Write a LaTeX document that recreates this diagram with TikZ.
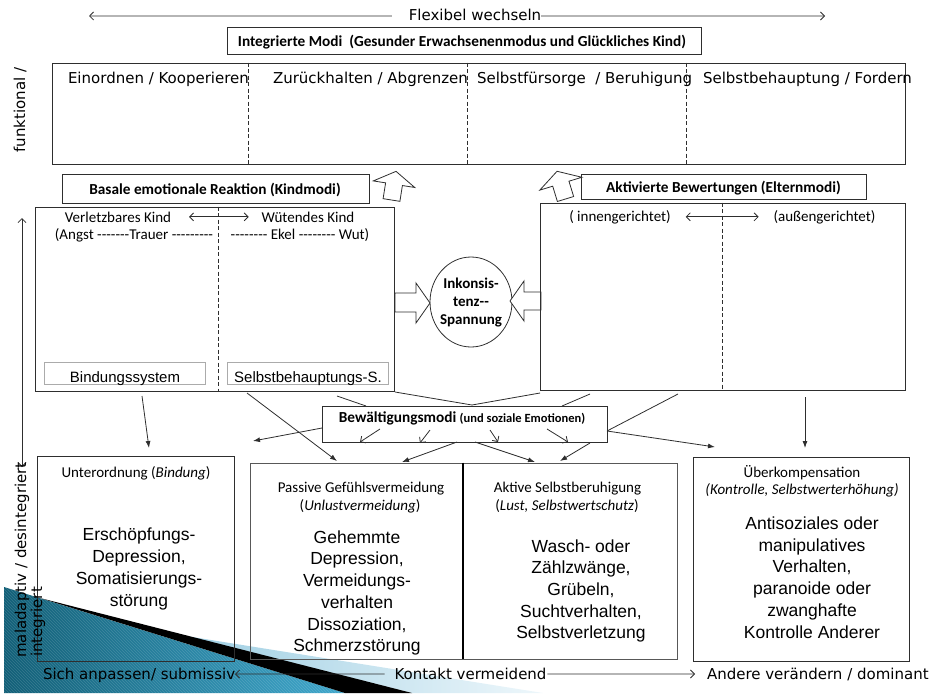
\documentclass[tikz,border=0pt]{standalone}
\usepackage{fontspec}
\newfontfamily\carl{Carlito}
\newfontfamily\dv{DejaVu Sans}
\newfontfamily\lib{Liberation Sans}
\usetikzlibrary{arrows.meta,patterns,shapes.geometric}
\definecolor{lc}{HTML}{2E2E2E}
\definecolor{tealA}{HTML}{125F77}
\definecolor{tealB}{HTML}{3FA7CC}
\definecolor{lbA}{HTML}{9FCFE3}
\definecolor{lbB}{HTML}{EEF7FB}
\definecolor{gbox}{HTML}{ABABAB}
\begin{document}
\begin{tikzpicture}[x=1pt,y=-1pt,
 box/.style={draw=lc,line width=0.8pt,inner sep=0pt},
 gbx/.style={draw=gbox,line width=0.7pt,inner sep=0pt},
 txt/.style={inner sep=0pt,outer sep=0pt},
 dvf/.style={txt,font=\dv\fontsize{15}{18}\selectfont},
 cal/.style={txt,font=\carl\fontsize{15}{18}\selectfont},
 calb/.style={txt,font=\carl\bfseries\fontsize{15.3}{18}\selectfont},
 libf/.style={txt,font=\lib\fontsize{15}{18}\selectfont},
 big/.style={txt,font=\lib\fontsize{17.5}{21.7}\selectfont,align=center},
 fa/.style={lc,line width=0.8pt,-{Latex[length=7pt,width=5pt]}},
 oa/.style={lc,line width=0.8pt,-{Straight Barb[length=4pt,width=8pt]}},
 da/.style={lc,line width=0.8pt,{Straight Barb[length=4pt,width=8pt]}-{Straight Barb[length=4pt,width=8pt]}},
 pl/.style={lc,line width=0.8pt},
 dsh/.style={lc,line width=0.8pt,dash pattern=on 4pt off 2.5pt},
 blk/.style={draw=lc,line width=0.8pt,fill=white,line join=miter}]
\useasboundingbox (0,0) rectangle (931,693);

% ---- corner decoration
\shade[left color=tealA,right color=tealB] (4,587) -- (345,693) -- (4,693) -- cycle;
\fill[pattern=north west lines,pattern color=white,opacity=0.15] (4,587) -- (345,693) -- (4,693) -- cycle;
\shade[left color=lbA,right color=lbB] (186,636) -- (543,693) -- (412,693) -- cycle;
\fill[black] (40,598) -- (412,693) -- (345,693) -- cycle;

% ---- top arrow
\node[dvf,anchor=base] (flex) at (475,21) {Flexibel wechseln};
\coordinate (fl) at (89,16);
\coordinate (fr) at (825,16);
\draw[oa] ([xshift=-17pt,yshift=-0.5pt]flex.west) -- (fl);
\draw[oa] ([yshift=-0.5pt]flex.east) -- (fr);

% ---- integrated modes
\node[box,minimum width=474,minimum height=27] (im) at (464.5,40.5) {};
\node[calb,anchor=base] (imt) at (462,47) {Integrierte Modi\ \ (Gesunder Erwachsenenmodus und Glückliches Kind)};

\node[box,minimum width=853,minimum height=101] (topb) at (478.5,113.5) {};
\foreach \dx in {197,416,635}{
  \draw[dsh] ([xshift=\dx pt]topb.north west) -- ([xshift=\dx pt]topb.south west);}
\node[dvf,anchor=base west] (t1) at (68,83) {Einordnen / Kooperieren};
\node[dvf,anchor=base west] (t2) at (273,83) {Zurückhalten / Abgrenzen};
\node[dvf,anchor=base west] (t3) at (477,83) {Selbstfürsorge\ \ / Beruhigung};
\node[dvf,anchor=base west] (t4) at (703,83) {Selbstbehauptung / Fordern};

% ---- headings second row
\node[box,minimum width=307,minimum height=29] (bas) at (215.5,188.5) {};
\node[calb,anchor=base] (bast) at (215,194) {Basale emotionale Reaktion (Kindmodi)};
\node[box,minimum width=285,minimum height=25] (akb) at (723.5,186.5) {};
\node[calb,anchor=base] (akbt) at (723.5,192) {Aktivierte Bewertungen (Elternmodi)};

% block up-arrows
\begin{scope}[shift={(391.5,200)},rotate=-9]
\draw[blk] (-8.5,0) -- (-8.5,-16) -- (-21,-16) -- (0,-29) -- (21,-16) -- (8.5,-16) -- (8.5,0) -- cycle;
\end{scope}
\begin{scope}[shift={(565.5,199)},rotate=17]
\draw[blk] (-8.5,0) -- (-8.5,-16) -- (-22,-16) -- (0,-29) -- (22,-16) -- (8.5,-16) -- (8.5,0) -- cycle;
\end{scope}

% ---- child modes box
\node[box,minimum width=359,minimum height=184] (kind) at (214.5,299) {};
\draw[dsh] ([xshift=184pt]kind.north west) -- ([xshift=184pt]kind.south west);
\node[cal,anchor=base] (vk) at (118,222) {Verletzbares Kind};
\node[cal,anchor=base] (wk) at (308,222) {Wütendes Kind};
\draw[da] ([xshift=18pt]vk.east) -- ([xshift=-13pt]wk.west);
\node[cal,anchor=base] (emo1) at (134,239) {(Angst -------Trauer ---------};
\node[cal,anchor=base] (emo2) at (300,239) {-------- Ekel -------- Wut)};
\node[gbx,minimum width=161,minimum height=22] (bind) at (124.5,373) {};
\node[libf,anchor=base] (bindt) at (125,382) {Bindungssystem};
\node[gbx,minimum width=161,minimum height=22] (sbs) at (307.5,373) {};
\node[libf,anchor=base] (sbst) at (308,382) {Selbstbehauptungs-S.};

% ---- inconsistency
\node[draw=lc,line width=0.8pt,ellipse,minimum width=82,minimum height=90,inner sep=0pt] (ink) at (471,302) {};
\node[calb,align=center,font=\carl\bfseries\fontsize{15}{18}\selectfont] (inkt) at (471,302.5) {Inkonsis-\\tenz--\\Spannung};
\draw[blk] (395,293) -- (416,293) -- (416,283) -- (430,303) -- (416,323) -- (416,312) -- (395,312) -- cycle;
\draw[blk] (541,292) -- (524,292) -- (524,281) -- (510,301) -- (524,321) -- (524,310) -- (541,310) -- cycle;

% ---- parent modes box
\node[box,minimum width=365,minimum height=187] (elt) at (722.5,296.5) {};
\draw[dsh] ([xshift=183pt]elt.north west) -- ([xshift=183pt]elt.south west);
\node[cal,anchor=base] (inn) at (620,221) {( innengerichtet)};
\node[cal,anchor=base] (aus) at (824.5,221) {(außengerichtet)};
\draw[da] ([xshift=15pt]inn.east) -- ([xshift=-15pt]aus.west);

% ---- coping modes
\node[box,minimum width=285,minimum height=36] (bew) at (464.5,424) {};
\node[calb,anchor=base] (bewt) at (462,422) {Bewältigungsmodi {\fontsize{12.5}{15}\selectfont (und soziale Emotionen)}};

% ---- bottom boxes
\node[box,minimum width=197,minimum height=205] (unt) at (135.5,558.5) {};
\node[cal,anchor=base] (untt) at (136,477) {Unterordnung ({\itshape Bindung})};
\node[big] (untb) at (139,569) {Erschöpfungs-\\Depression,\\Somatisierungs-\\störung};

\node[box,draw=lc!80,minimum width=213,minimum height=196] (pas) at (356.5,561) {};
\node[cal,anchor=base] (past1) at (361,492) {Passive Gefühlsvermeidung};
\node[cal,anchor=base] (past2) at (360,510) {({\itshape Unlustvermeidung})};
\node[big] (pasb) at (357,593) {Gehemmte\\Depression,\\Vermeidungs-\\verhalten\\Dissoziation,\\Schmerzstörung};

\node[box,draw=lc!80,minimum width=214,minimum height=196] (akt) at (570,561) {};
\draw[black,line width=2pt] (pas.north east) -- (pas.south east);
\node[cal,anchor=base] (akt1) at (567.5,492) {Aktive Selbstberuhigung};
\node[cal,anchor=base] (akt2) at (567,510) {({\itshape Lust, Selbstwertschutz})};
\node[big] (aktb) at (581,591) {Wasch- oder\\Zählzwänge,\\Grübeln,\\Suchtverhalten,\\Selbstverletzung};

\node[box,minimum width=216,minimum height=204] (ueb) at (801,559) {};
\node[cal,anchor=base] (ueb1) at (802,477) {Überkompensation};
\node[cal,anchor=base] (ueb2) at (802,494) {{\itshape (Kontrolle, Selbstwerterhöhung)}};
\node[big] (uebb) at (812,577.5) {Antisoziales oder\\manipulatives\\Verhalten,\\paranoide oder\\zwanghafte\\Kontrolle Anderer};

% ---- connectors
\coordinate (k1) at (142,396); \coordinate (u1) at (149,448);
\draw[fa] (k1) -- (u1);
\coordinate (k2) at (247,393); \coordinate (p1) at (337,461);
\draw[fa] (k2) -- (p1);
\coordinate (b0) at (322,428); \coordinate (bl) at (253,441);
\draw[fa] (b0) -- (bl);
\coordinate (m) at (472,405);
\coordinate (l1a) at (337,396); \coordinate (l1b) at (366,406);
\draw[pl] (l1a) -- (l1b);
\coordinate (l2a) at (395,392); \draw[pl] (l2a) -- (m);
\coordinate (l3a) at (540,393); \draw[pl] (l3a) -- (m);
\coordinate (l4a) at (590,394); \coordinate (l4b) at (562,406);
\draw[pl] (l4a) -- (l4b);
\coordinate (l5a) at (678,394); \coordinate (br) at (607,431);
\draw[pl] (l5a) -- (br);
% small arrows inside coping box
\coordinate (s1a) at (380,429); \coordinate (s1b) at (360,442);
\coordinate (s2a) at (430,430); \coordinate (s2b) at (420,443);
\coordinate (s3a) at (490,430); \coordinate (s3b) at (498,442);
\coordinate (s4a) at (547,429); \coordinate (s4b) at (568,442);
\draw[oa] (s1a) -- (s1b);
\draw[oa] (s2a) -- (s2b);
\draw[oa] (s3a) -- (s3b);
\draw[oa] (s4a) -- (s4b);
\coordinate (d1a) at (457,442); \coordinate (d1b) at (402,462);
\coordinate (d2a) at (475,442); \coordinate (d2b) at (535,462);
\coordinate (d3a) at (590,443); \coordinate (d3b) at (560,461);
\coordinate (d4b) at (715,447);
\draw[fa] (d1a) -- (d1b);
\draw[fa] (d2a) -- (d2b);
\draw[fa] (d3a) -- (d3b);
\draw[fa] (br) -- (d4b);
\coordinate (e1) at (805,397); \coordinate (e2) at (805,448);
\draw[fa] (e1) -- (e2);

% ---- side axis
\coordinate (vt) at (22,218); \coordinate (vb) at (22,467);
\draw[da] (vb) -- (vt);
\node[dvf,rotate=90,anchor=base] (fk) at (25,110) {funktional /};
\node[dvf,rotate=90,anchor=base] (mal) at (26,560) {maladaptiv / desintegriert};
\node[dvf,rotate=90,anchor=base] (intg) at (42,622) {integriert};

% ---- bottom axis
\node[dvf,anchor=base west] (sich) at (43,679) {Sich anpassen/ submissiv};
\node[dvf,anchor=base] (kon) at (470.5,679) {Kontakt vermeidend};
\node[dvf,anchor=base west] (and) at (707,679) {Andere verändern / dominant};
\coordinate (sa) at (235,674); \coordinate (ad) at (695,674);
\draw[oa] ([xshift=-10pt,yshift=-0.5pt]kon.west) -- (sa);
\draw[oa] ([xshift=1pt,yshift=-0.5pt]kon.east) -- (ad);
\end{tikzpicture}
\end{document}
